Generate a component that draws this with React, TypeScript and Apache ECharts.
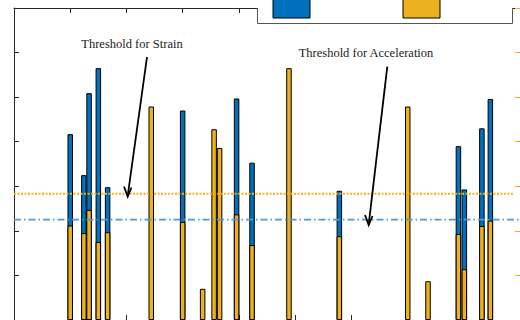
import React, { useEffect, useRef } from "react";
import * as echarts from "echarts";

// Bar positions along the x axis (axis runs 0..90, ticks every 10)
const xPositions = [10.0, 12.43, 13.35, 15.0, 16.65, 24.41, 30.0, 33.55, 35.59, 36.57, 39.59, 42.34, 48.91, 57.87, 70.03, 73.64, 79.05, 80.1, 83.22, 84.73];
// Blue bars (strain) heights
const strainValues = [4.17, 3.25, 5.09, 5.65, 2.98, 0, 4.7, 0, 0, 0, 4.97, 3.53, 0, 2.9, 0, 0, 3.9, 2.93, 4.3, 4.96];
// Orange bars (acceleration) heights
const accelValues = [2.12, 1.95, 2.47, 1.75, 1.97, 4.79, 2.2, 0.7, 4.28, 3.86, 2.37, 1.68, 5.65, 1.88, 4.79, 0.87, 1.93, 1.14, 2.11, 2.23];
// Threshold levels
const strainThreshold = 2.83;
const accelThreshold = 2.25;
const xRange = [0, 90];
const yRange = [0, 7];

const BLUE = "#0072BD";
const ORANGE = "#EDB120";

export default function App() {
  const ref = useRef<HTMLDivElement>(null);
  useEffect(() => {
    document.body.style.margin = "0";
    if (!ref.current) return;
    const chart = echarts.init(ref.current, null, { renderer: "svg" });
    const strainData = xPositions
      .map((x, i) => [x, strainValues[i]])
      .filter((d) => d[1] > 0);
    const accelData = xPositions
      .map((x, i) => [x, accelValues[i]])
      .filter((d) => d[1] > 0);
    const axisColor = "#262626";
    const baseX = {
      type: "value" as const,
      min: xRange[0],
      max: xRange[1],
      interval: 10,
      axisLabel: { show: false },
      splitLine: { show: false },
      axisTick: { show: true, inside: true, length: 5, lineStyle: { color: axisColor } },
    };
    const baseY = {
      type: "value" as const,
      min: yRange[0],
      max: yRange[1],
      interval: 1,
      axisLabel: { show: false },
      splitLine: { show: false },
    };
    chart.setOption({
      animation: false,
      grid: { left: 14, top: 8, width: 507, height: 312, containLabel: false },
      xAxis: [
        { ...baseX, position: "bottom", axisLine: { show: true, onZero: false, lineStyle: { color: "#e8dfc0" } } },
        { ...baseX, position: "top", axisLine: { show: true, onZero: false, lineStyle: { color: axisColor } } },
      ],
      yAxis: [
        {
          ...baseY,
          position: "left",
          axisLine: { show: true, onZero: false, lineStyle: { color: axisColor } },
          axisTick: { show: true, inside: true, length: 5, lineStyle: { color: axisColor } },
        },
        {
          ...baseY,
          position: "right",
          axisLine: { show: true, onZero: false, lineStyle: { color: ORANGE } },
          axisTick: { show: true, inside: true, length: 5, lineStyle: { color: ORANGE } },
        },
      ],
      series: [
        {
          name: "Strain",
          type: "bar",
          xAxisIndex: 0,
          yAxisIndex: 0,
          data: strainData,
          barWidth: 5.5,
          barGap: "-100%",
          itemStyle: { color: BLUE, borderColor: "#000", borderWidth: 1 },
        },
        {
          name: "Acceleration",
          type: "bar",
          xAxisIndex: 0,
          yAxisIndex: 0,
          data: accelData,
          barWidth: 5.5,
          barGap: "-100%",
          itemStyle: { color: ORANGE, borderColor: "#000", borderWidth: 1 },
        },
        {
          name: "Strain threshold",
          type: "line",
          xAxisIndex: 0,
          yAxisIndex: 0,
          symbol: "none",
          data: [[xRange[0], strainThreshold], [89, strainThreshold]],
          lineStyle: { color: ORANGE, width: 2, type: [2, 1.5] },
          z: 3,
        },
        {
          name: "Acceleration threshold",
          type: "line",
          xAxisIndex: 0,
          yAxisIndex: 0,
          symbol: "none",
          data: [[xRange[0], accelThreshold], [xRange[1], accelThreshold]],
          lineStyle: { color: "#4d9ad6", width: 1.8, type: [7, 3, 1.5, 3] },
          z: 3,
        },
      ],
      graphic: [
        { type: "rect", z: 100, shape: { x: 258, y: 0, width: 254, height: 23 }, style: { fill: "#fff" } },
        {
          type: "polyline",
          z: 101,
          shape: { points: [[257.5, 8], [257.5, 23.5], [512.5, 23.5], [512.5, 8]] },
          style: { stroke: "#555", lineWidth: 1, fill: "none" },
        },
        { type: "rect", z: 101, shape: { x: 273, y: -2, width: 37, height: 20 }, style: { fill: BLUE, stroke: "#000", lineWidth: 1 } },
        { type: "rect", z: 101, shape: { x: 403, y: -2, width: 37, height: 20 }, style: { fill: ORANGE, stroke: "#000", lineWidth: 1 } },
        {
          type: "text",
          z: 101,
          x: 132,
          y: 44,
          style: { text: "Threshold for Strain", font: '12.5px "Liberation Serif"', fill: "#1a1a1a", align: "center", verticalAlign: "middle" },
        },
        {
          type: "text",
          z: 101,
          x: 366,
          y: 53,
          style: { text: "Threshold for Acceleration", font: '12.5px "Liberation Serif"', fill: "#1a1a1a", align: "center", verticalAlign: "middle" },
        },
        { type: "line", z: 101, shape: { x1: 147, y1: 57, x2: 127.7, y2: 196 }, style: { stroke: "#000", lineWidth: 1.8 } },
        {
          type: "polyline",
          z: 101,
          shape: { points: [[124, 186.5], [127.7, 196.5], [131.5, 187.5]] },
          style: { stroke: "#000", lineWidth: 1.8, fill: "none" },
        },
        { type: "line", z: 101, shape: { x1: 387.3, y1: 66.7, x2: 368.7, y2: 224.5 }, style: { stroke: "#000", lineWidth: 1.8 } },
        {
          type: "polyline",
          z: 101,
          shape: { points: [[365, 215], [368.7, 225], [372.5, 216]] },
          style: { stroke: "#000", lineWidth: 1.8, fill: "none" },
        },
      ],
    });
    return () => chart.dispose();
  }, []);
  return <div ref={ref} style={{ width: 520, height: 320 }} />;
}
